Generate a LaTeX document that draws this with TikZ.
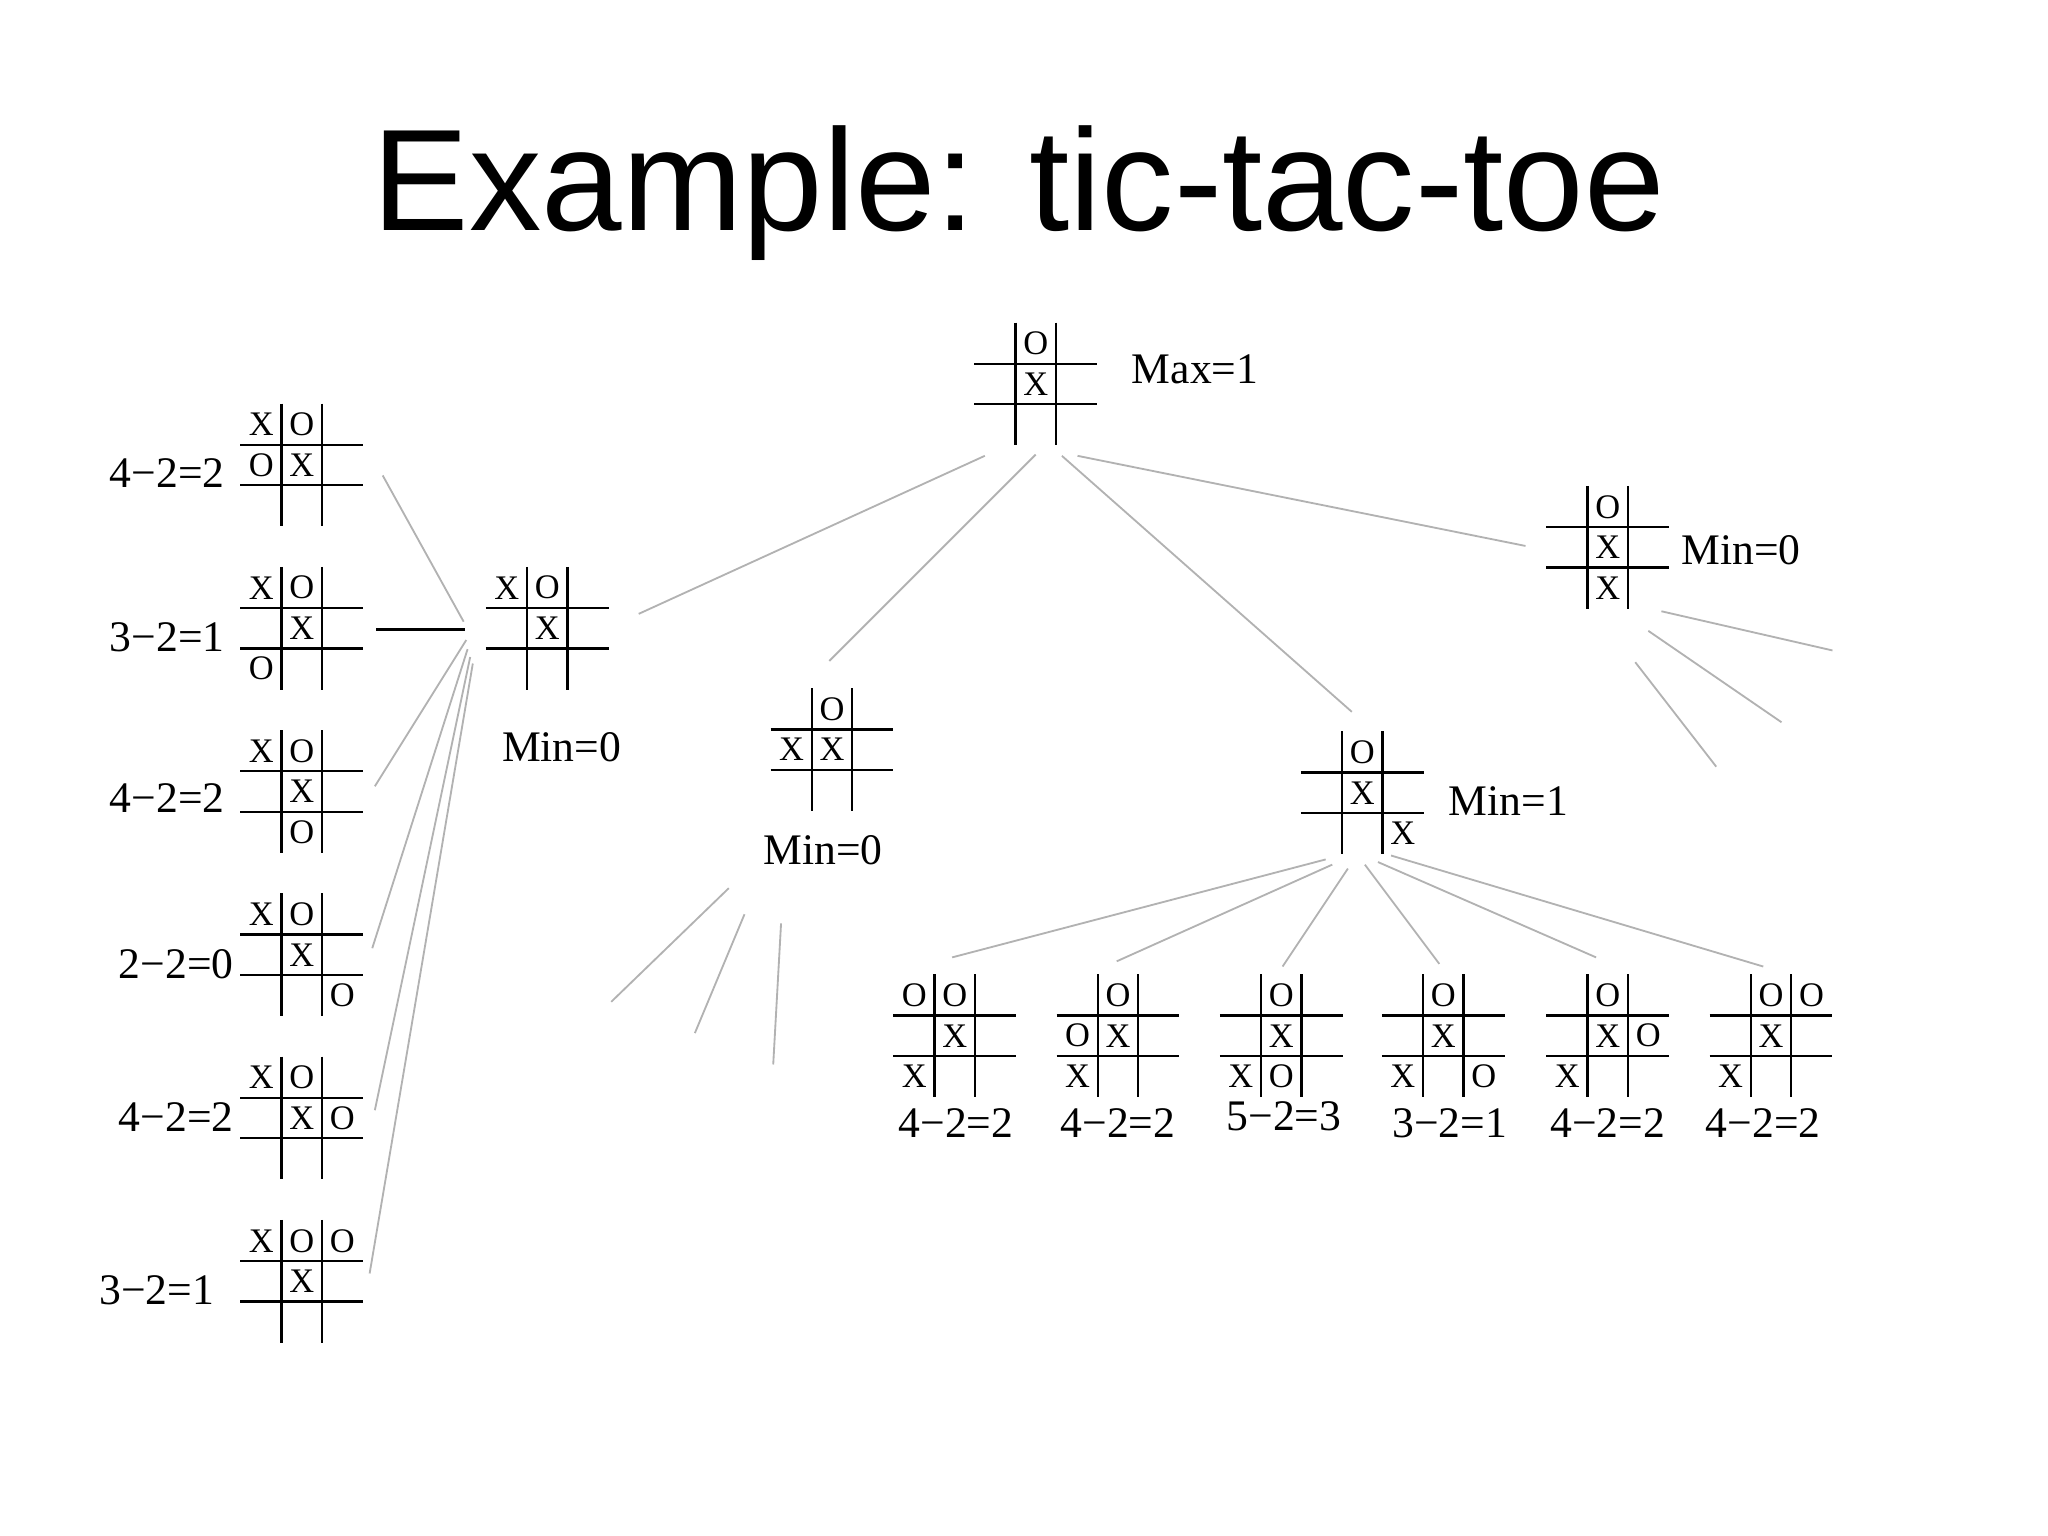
\documentclass[tikz,border=0pt]{standalone}
\usepackage{fontspec}
\setmainfont{Liberation Serif}
\newfontfamily\titlefont{Liberation Sans}
\tikzset{
  gridline/.style={black, line width=0.5pt},
  edge/.style={gray!60, line width=0.4pt},
  piece/.style={font=\fontsize{7.5}{8}\selectfont, inner sep=0pt},
  lbl/.style={font=\fontsize{9.5}{10}\selectfont, inner sep=0pt},
}
% \brd{name}{cx}{cy}{marks as dx/dy/letter}
\newcommand\brd[4]{%
  \coordinate (#1) at (#2,#3);
  \draw[gridline] (#2-47,#3-15.5) -- (#2+47,#3-15.5);
  \draw[gridline] (#2-47,#3+15.5) -- (#2+47,#3+15.5);
  \draw[gridline] (#2-15.5,#3-47) -- (#2-15.5,#3+47);
  \draw[gridline] (#2+15.5,#3-47) -- (#2+15.5,#3+47);
  \foreach \dx/\dy/\m in {#4} {\node[piece] at (#2+\dx*31,#3+\dy*31) {\m};}
}
\begin{document}
\begin{tikzpicture}[x=0.01cm,y=-0.01cm]
\useasboundingbox (0,0) rectangle (1568,1176);
\node[font=\titlefont\fontsize{31.5}{34}\selectfont] (title) at (780,148) {Example: tic-tac-toe};

\brd{root}{793}{294}{0/-1/O,0/0/X}
\node[lbl] (lroot) at (915,283) {Max=1};
\brd{mA}{419}{481}{-1/-1/X,0/-1/O,0/0/X}
\node[lbl] (lA) at (430,572) {Min=0};
\brd{mB}{637}{574}{0/-1/O,-1/0/X,0/0/X}
\node[lbl] (lB) at (630,651) {Min=0};
\brd{mC}{1043}{607}{0/-1/O,0/0/X,1/1/X}
\node[lbl] (lC) at (1155,613) {Min=1};
\brd{mD}{1231}{419}{0/-1/O,0/0/X,0/1/X}
\node[lbl] (lD) at (1333,421) {Min=0};

\brd{a1}{231}{356}{-1/-1/X,0/-1/O,-1/0/O,0/0/X}
\node[lbl] at (128,362) {4−2=2};
\brd{a2}{231}{481}{-1/-1/X,0/-1/O,0/0/X,-1/1/O}
\node[lbl] at (128,488) {3−2=1};
\brd{a3}{231}{606}{-1/-1/X,0/-1/O,0/0/X,0/1/O}
\node[lbl] at (128,611) {4−2=2};
\brd{a4}{231}{731}{-1/-1/X,0/-1/O,0/0/X,1/1/O}
\node[lbl] at (135,738) {2−2=0};
\brd{a5}{231}{856}{-1/-1/X,0/-1/O,0/0/X,1/0/O}
\node[lbl] at (135,855) {4−2=2};
\brd{a6}{231}{981}{-1/-1/X,0/-1/O,1/-1/O,0/0/X}
\node[lbl] at (120,988) {3−2=1};

\brd{b1}{731}{793}{-1/-1/O,0/-1/O,0/0/X,-1/1/X}
\node[lbl] at (732,860) {4−2=2};
\brd{b2}{856}{793}{0/-1/O,-1/0/O,0/0/X,-1/1/X}
\node[lbl] at (856,860) {4−2=2};
\brd{b3}{981}{793}{0/-1/O,0/0/X,-1/1/X,0/1/O}
\node[lbl] at (983,855) {5−2=3};
\brd{b4}{1105}{793}{0/-1/O,0/0/X,-1/1/X,1/1/O}
\node[lbl] at (1110,860) {3−2=1};
\brd{b5}{1231}{793}{0/-1/O,0/0/X,1/0/O,-1/1/X}
\node[lbl] at (1231,860) {4−2=2};
\brd{b6}{1356}{793}{0/-1/O,1/-1/O,0/0/X,-1/1/X}
\node[lbl] at (1350,860) {4−2=2};

% root edges
\draw[edge] (754,349) -- (489,470);
\draw[edge] (793,348) -- (635,506);
\draw[edge] (813,349) -- (1035,545);
\draw[edge] (825,349) -- (1168,418);
% left fan
\draw[edge] (355,476) -- (293,364);
\draw[black,line width=0.5pt] (356,482) -- (288,482);
\draw[edge] (357,490) -- (287,602);
\draw[edge] (358,497) -- (285,726);
\draw[edge] (360,503) -- (287,850);
\draw[edge] (362,508) -- (283,975);
% middle stubs
\draw[edge] (558,680) -- (468,767);
\draw[edge] (570,700) -- (532,791);
\draw[edge] (598,707) -- (592,815);
% far right stubs
\draw[edge] (1272,468) -- (1403,498);
\draw[edge] (1262,483) -- (1364,553);
\draw[edge] (1252,507) -- (1314,587);
% Min=1 children
\draw[edge] (1015,658) -- (729,733);
\draw[edge] (1020,662) -- (855,736);
\draw[edge] (1032,665) -- (982,740);
\draw[edge] (1045,662) -- (1102,738);
\draw[edge] (1055,660) -- (1222,733);
\draw[edge] (1065,655) -- (1350,740);
\end{tikzpicture}
\end{document}
